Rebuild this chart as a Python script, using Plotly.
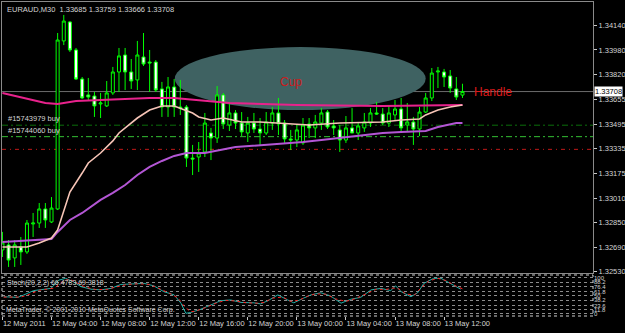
import plotly.graph_objects as go

# ---------------- data ----------------
bar_index = list(range(76))
opens = [1.32672, 1.32705, 1.32620, 1.32691, 1.32659, 1.32842, 1.32848, 1.32940, 1.32855, 1.32940,
         1.34039, 1.34163, 1.33980, 1.33790, 1.33686, 1.33679, 1.33627, 1.33614, 1.33699, 1.33836,
         1.33947, 1.33836, 1.33784, 1.33934, 1.33901, 1.33901, 1.33725, 1.33607, 1.33738, 1.33607,
         1.33607, 1.33273, 1.33280, 1.33313, 1.33437, 1.33404, 1.33686, 1.33489, 1.33568, 1.33502,
         1.33437, 1.33502, 1.33463, 1.33437, 1.33502, 1.33568, 1.33502, 1.33398, 1.33391, 1.33372,
         1.33496, 1.33470, 1.33502, 1.33574, 1.33483, 1.33457, 1.33391, 1.33470, 1.33437, 1.33470,
         1.33502, 1.33568, 1.33561, 1.33502, 1.33555, 1.33594, 1.33489, 1.33509, 1.33463, 1.33574,
         1.33666, 1.33836, 1.33836, 1.33810, 1.33725, 1.33685]
highs = [1.32790, 1.32737, 1.32737, 1.32757, 1.32868, 1.32914, 1.32979, 1.32979, 1.33018, 1.34091,
         1.34209, 1.34169, 1.33993, 1.33803, 1.33797, 1.33705, 1.33699, 1.33777, 1.33869, 1.33993,
         1.33993, 1.33921, 1.34039, 1.34091, 1.33980, 1.33914, 1.33771, 1.33803, 1.33790, 1.33784,
         1.33620, 1.33359, 1.33378, 1.33568, 1.33470, 1.33744, 1.33699, 1.33640, 1.33587, 1.33574,
         1.33542, 1.33568, 1.33535, 1.33574, 1.33607, 1.33666, 1.33522, 1.33457, 1.33489, 1.33535,
         1.33535, 1.33555, 1.33600, 1.33587, 1.33522, 1.33489, 1.33548, 1.33600, 1.33509, 1.33568,
         1.33600, 1.33640, 1.33600, 1.33620, 1.33653, 1.33666, 1.33633, 1.33542, 1.33607, 1.33699,
         1.33862, 1.33869, 1.33856, 1.33849, 1.33803, 1.33759]
lows = [1.32626, 1.32561, 1.32561, 1.32574, 1.32646, 1.32757, 1.32816, 1.32816, 1.32848, 1.32933,
        1.34012, 1.33967, 1.33784, 1.33659, 1.33653, 1.33542, 1.33535, 1.33607, 1.33686, 1.33705,
        1.33718, 1.33725, 1.33718, 1.33875, 1.33705, 1.33705, 1.33542, 1.33542, 1.33542, 1.33555,
        1.33215, 1.33162, 1.33182, 1.33280, 1.33260, 1.33372, 1.33463, 1.33450, 1.33463, 1.33417,
        1.33378, 1.33437, 1.33359, 1.33424, 1.33457, 1.33424, 1.33372, 1.33326, 1.33345, 1.33359,
        1.33404, 1.33404, 1.33457, 1.33463, 1.33424, 1.33313, 1.33372, 1.33437, 1.33391, 1.33444,
        1.33476, 1.33555, 1.33489, 1.33476, 1.33522, 1.33437, 1.33444, 1.33359, 1.33417, 1.33568,
        1.33646, 1.33731, 1.33738, 1.33699, 1.33653, 1.33666]
closes = [1.32718, 1.32606, 1.32705, 1.32659, 1.32848, 1.32848, 1.32940, 1.32868, 1.32946, 1.34045,
          1.34169, 1.33980, 1.33790, 1.33666, 1.33672, 1.33614, 1.33633, 1.33699, 1.33836, 1.33941,
          1.33836, 1.33777, 1.33947, 1.33888, 1.33895, 1.33718, 1.33607, 1.33738, 1.33607, 1.33600,
          1.33273, 1.33267, 1.33306, 1.33502, 1.33404, 1.33686, 1.33496, 1.33568, 1.33502, 1.33444,
          1.33502, 1.33463, 1.33437, 1.33509, 1.33568, 1.33496, 1.33398, 1.33391, 1.33457, 1.33489,
          1.33470, 1.33509, 1.33568, 1.33476, 1.33470, 1.33391, 1.33470, 1.33437, 1.33483, 1.33509,
          1.33568, 1.33561, 1.33502, 1.33568, 1.33594, 1.33470, 1.33509, 1.33463, 1.33574, 1.33666,
          1.33829, 1.33842, 1.33803, 1.33731, 1.33672, 1.33708]

# moving averages (read at selected bars)
ma_fast_x = [0, 4, 6, 8, 9, 10, 11, 13, 14, 16, 18, 19, 22, 24, 26, 28, 29, 31, 32, 34, 36, 39, 42, 45,
             50, 55, 62, 65, 68, 69, 71, 73, 75]
ma_fast_y = [1.32691, 1.32691, 1.32718, 1.32750, 1.32803, 1.32933, 1.33051, 1.33175, 1.33241, 1.33306,
             1.33385, 1.33437, 1.33535, 1.33587, 1.33614, 1.33614, 1.33600, 1.33568, 1.33542, 1.33522,
             1.33535, 1.33509, 1.33509, 1.33502, 1.33489, 1.33502, 1.33509, 1.33522, 1.33529, 1.33555,
             1.33587, 1.33607, 1.33620]
ma_slow_x = [0, 8, 9, 11, 13, 16, 18, 20, 22, 24, 26, 28, 30, 33, 38, 43, 49, 52, 55, 62, 65, 69, 71, 74, 75]
ma_slow_y = [1.32724, 1.32744, 1.32790, 1.32868, 1.32914, 1.32999, 1.33045, 1.33097, 1.33162, 1.33215,
             1.33254, 1.33287, 1.33306, 1.33306, 1.33345, 1.33359, 1.33378, 1.33391, 1.33404, 1.33437,
             1.33444, 1.33450, 1.33476, 1.33502, 1.33502]
ma_long_x = [0, 7, 9, 12, 16, 24, 28, 32, 37, 48, 62, 75]
ma_long_y = [1.33699, 1.33633, 1.33627, 1.33646, 1.33653, 1.33666, 1.33666, 1.33653, 1.33633, 1.33620,
             1.33614, 1.33620]

# stochastic (20,2,2)
stoch_main_x = [0.2, 2.5, 3.5, 5.1, 7.9, 9.2, 10.3, 11.5, 12.8, 14.4, 16, 17.7, 19.3, 21.4, 23.1, 24.7,
                26.3, 28, 29.1, 29.9, 30.7, 32.3, 34, 35.6, 37.2, 38.9, 41, 42.1, 43.3, 44.9, 46.5, 47.5,
                49.1, 50.3, 51.9, 53.5, 55.2, 56.8, 58.4, 60.1, 61.7, 63.3, 64.1, 65, 66.6, 67.7, 68.7,
                70.3, 71.5, 73.1, 74.7]
stoch_main_y = [48, 46, 53, 65, 71, 94, 99, 90, 76, 69, 67, 71, 82, 83, 85, 78, 62, 53, 30, 2, 4, 13, 25,
                37, 39, 32, 31, 28, 37, 53, 39, 31, 44, 53, 59, 50, 30, 41, 46, 67, 71, 65, 78, 62, 48,
                59, 85, 99, 99, 85, 69]
stoch_sig_x = [0.2, 3, 4, 6, 8.5, 10, 11, 12.3, 13.6, 15.2, 17, 18.5, 20.3, 22.3, 24, 25.5, 27.2, 28.6,
               29.7, 30.7, 31.5, 33, 34.8, 36.4, 38, 39.8, 41.6, 42.7, 44, 45.7, 47, 48.3, 49.7, 51,
               52.7, 54.3, 56, 57.6, 59.2, 61, 62.5, 63.7, 64.6, 65.8, 67.2, 68.2, 69.5, 71, 72.3, 74, 75]
stoch_sig_y = [47, 47, 52, 66, 72, 93, 96, 86, 74, 68, 68, 75, 82, 84, 82, 71, 58, 45, 20, 6, 8, 17, 30,
               38, 36, 31, 30, 32, 44, 47, 35, 38, 49, 56, 55, 42, 35, 43, 56, 69, 68, 72, 70, 55, 53,
               72, 92, 99, 93, 77, 70]
stoch_levels = [0, 11.8, 23.6, 38.2, 50, 61.8, 76.4, 88.2, 100]
stoch_level_text = ["0", "11.8", "23.6", "38.2", "50", "61.8", "76.4", "88.2", "100"]

price_ticks = [1.34140, 1.33980, 1.33820, 1.33655, 1.33495, 1.33335, 1.33175, 1.33010, 1.32850, 1.32690, 1.32530]
price_tick_text = ["1.34140", "1.33980", "1.33820", "1.33655", "1.33495", "1.33335", "1.33175",
                   "1.33010", "1.32850", "1.32690", "1.32530"]
time_tick_bars = [0, 8, 16, 24, 32, 40, 48, 56, 64, 72]
time_tick_text = ["12 May 2011", "12 May 04:00", "12 May 08:00", "12 May 12:00", "12 May 16:00",
                  "12 May 20:00", "13 May 00:00", "13 May 04:00", "13 May 08:00", "13 May 12:00"]

last_price = 1.33708
order_prices = [1.33488, 1.33413]
order_labels = ["#15743979 buy", "#15744060 buy"]
stop_price = 1.33330
cup_bars = [28.1, 69.0]
cup_prices = [1.33587, 1.33999]
cup_label_pos = (47.0, 1.33771)
handle_label_pos = (79.9, 1.33702)

# ---------------- figure ----------------
FONT = "Liberation Sans"
TXT = "#d4d4d4"
fig = go.Figure()

fig.add_trace(go.Candlestick(
    x=bar_index, open=opens, high=highs, low=lows, close=closes,
    increasing=dict(line=dict(color="#00ff00", width=1), fillcolor="#000000"),
    decreasing=dict(line=dict(color="#00ff00", width=1), fillcolor="#ffffff"),
    whiskerwidth=0, showlegend=False, hoverinfo="skip", xaxis="x", yaxis="y"))

fig.add_trace(go.Scatter(x=ma_long_x, y=ma_long_y, mode="lines",
                         line=dict(color="#e8228c", width=2), showlegend=False, hoverinfo="skip"))
fig.add_trace(go.Scatter(x=ma_slow_x, y=ma_slow_y, mode="lines",
                         line=dict(color="#b356d4", width=2), showlegend=False, hoverinfo="skip"))
fig.add_trace(go.Scatter(x=ma_fast_x, y=ma_fast_y, mode="lines",
                         line=dict(color="#f6c4b6", width=1.6), showlegend=False, hoverinfo="skip"))

fig.add_trace(go.Scatter(x=stoch_main_x, y=stoch_main_y, mode="lines", xaxis="x2", yaxis="y2",
                         line=dict(color="#20b2aa", width=1), showlegend=False, hoverinfo="skip"))
fig.add_trace(go.Scatter(x=stoch_sig_x, y=stoch_sig_y, mode="lines", xaxis="x2", yaxis="y2",
                         line=dict(color="#ff2020", width=1, dash="dot"), showlegend=False, hoverinfo="skip"))

x_range = [-0.07, 96.28]

shapes = [
    dict(type="circle", xref="x", yref="y", x0=cup_bars[0], x1=cup_bars[1],
         y0=cup_prices[0], y1=cup_prices[1], fillcolor="#3f6262", line=dict(width=0), layer="below"),
    dict(type="line", xref="paper", yref="y", x0=0, x1=1, y0=last_price, y1=last_price,
         line=dict(color="#6c6c6c", width=1), layer="below"),
    dict(type="line", xref="paper", yref="y", x0=0, x1=1, y0=order_prices[0], y1=order_prices[0],
         line=dict(color="#0b6e0b", width=1, dash="6px,3px,2px,3px"), layer="below"),
    dict(type="line", xref="paper", yref="y", x0=0, x1=1, y0=order_prices[1], y1=order_prices[1],
         line=dict(color="#34c034", width=1, dash="6px,3px,2px,3px"), layer="below"),
    dict(type="line", xref="paper", yref="y", x0=0, x1=1, y0=stop_price, y1=stop_price,
         line=dict(color="#c01818", width=1, dash="4px,4px,1px,4px"), layer="below"),
    dict(type="rect", xref="paper", yref="y2 domain", x0=0, x1=1, y0=0, y1=1,
         line=dict(color="#cfcfcf", width=1, dash="dot"), fillcolor="rgba(0,0,0,0)"),
]

annotations = [
    dict(xref="paper", yref="paper", x=0, y=1, xanchor="left", yanchor="top", xshift=3, yshift=-1,
         text="EURAUD,M30  1.33685 1.33759 1.33666 1.33708", showarrow=False,
         font=dict(family=FONT, size=7.5, color=TXT)),
    dict(xref="paper", yref="y", x=1, y=last_price, xanchor="left", yanchor="middle", xshift=1,
         text=f"{last_price:.5f}", showarrow=False, bgcolor="#ffffff", borderpad=0,
         font=dict(family=FONT, size=7.5, color="#000000")),
    dict(xref="x", yref="y", x=cup_label_pos[0], y=cup_label_pos[1], text="Cup", showarrow=False,
         font=dict(family=FONT, size=12, color="#cc1c1c")),
    dict(xref="x", yref="y", x=handle_label_pos[0], y=handle_label_pos[1], text="Handle", showarrow=False,
         font=dict(family=FONT, size=12, color="#dd1a1a")),
    dict(xref="paper", yref="y2 domain", x=0, y=1, xanchor="left", yanchor="top", xshift=3, yshift=-2,
         text="Stoch(20,2,2) 66.4783 69.3818", showarrow=False,
         font=dict(family=FONT, size=7, color=TXT)),
    dict(xref="paper", yref="y2 domain", x=0, y=0, xanchor="left", yanchor="bottom", xshift=2, yshift=0,
         text="MetaTrader, © 2001-2010 MetaQuotes Software Corp.", showarrow=False,
         font=dict(family=FONT, size=7, color=TXT)),
]
for p, lab in zip(order_prices, order_labels):
    annotations.append(dict(xref="paper", yref="y", x=0, y=p, xanchor="left", yanchor="bottom",
                            xshift=4, yshift=0, text=lab, showarrow=False,
                            font=dict(family=FONT, size=7.5, color=TXT)))

fig.update_layout(
    width=625, height=333,
    margin=dict(l=2, r=32, t=2, b=17, autoexpand=False),
    paper_bgcolor="#000000", plot_bgcolor="#000000",
    showlegend=False,
    shapes=shapes, annotations=annotations,
    xaxis=dict(domain=[0, 1], range=x_range, anchor="y", showticklabels=False, showgrid=False,
               zeroline=False, showline=True, mirror=True, linecolor="#8a8a8a", ticks="",
               automargin=False, rangeslider=dict(visible=False)),
    xaxis2=dict(domain=[0, 1], range=x_range, anchor="y2", showgrid=False, zeroline=False,
                showline=False, tickvals=time_tick_bars, ticktext=time_tick_text, tickangle=0,
                ticks="outside", ticklen=3, tickcolor="#c8c8c8", ticklabelposition="outside right",
                automargin=False, tickfont=dict(family=FONT, size=7.5, color=TXT)),
    yaxis=dict(domain=[0.136, 1], range=[1.325194, 1.342937], side="right", anchor="x",
               tickvals=price_ticks, ticktext=price_tick_text, ticks="outside", ticklen=3,
               tickcolor="#c8c8c8", showgrid=False, zeroline=False, showline=True, mirror=True,
               automargin=False, linecolor="#8a8a8a", tickfont=dict(family=FONT, size=7.5, color=TXT)),
    yaxis2=dict(domain=[0, 0.1306], range=[-5.6, 108.3], side="right", anchor="x2",
                tickvals=stoch_levels, ticktext=stoch_level_text, ticks="", showgrid=True,
                gridcolor="#8c8c8c", griddash="dot", gridwidth=1, zeroline=False, showline=False,
                automargin=False, tickfont=dict(family=FONT, size=6, color=TXT)),
    boxgap=0.3,
)

fig.write_html("out.html")
